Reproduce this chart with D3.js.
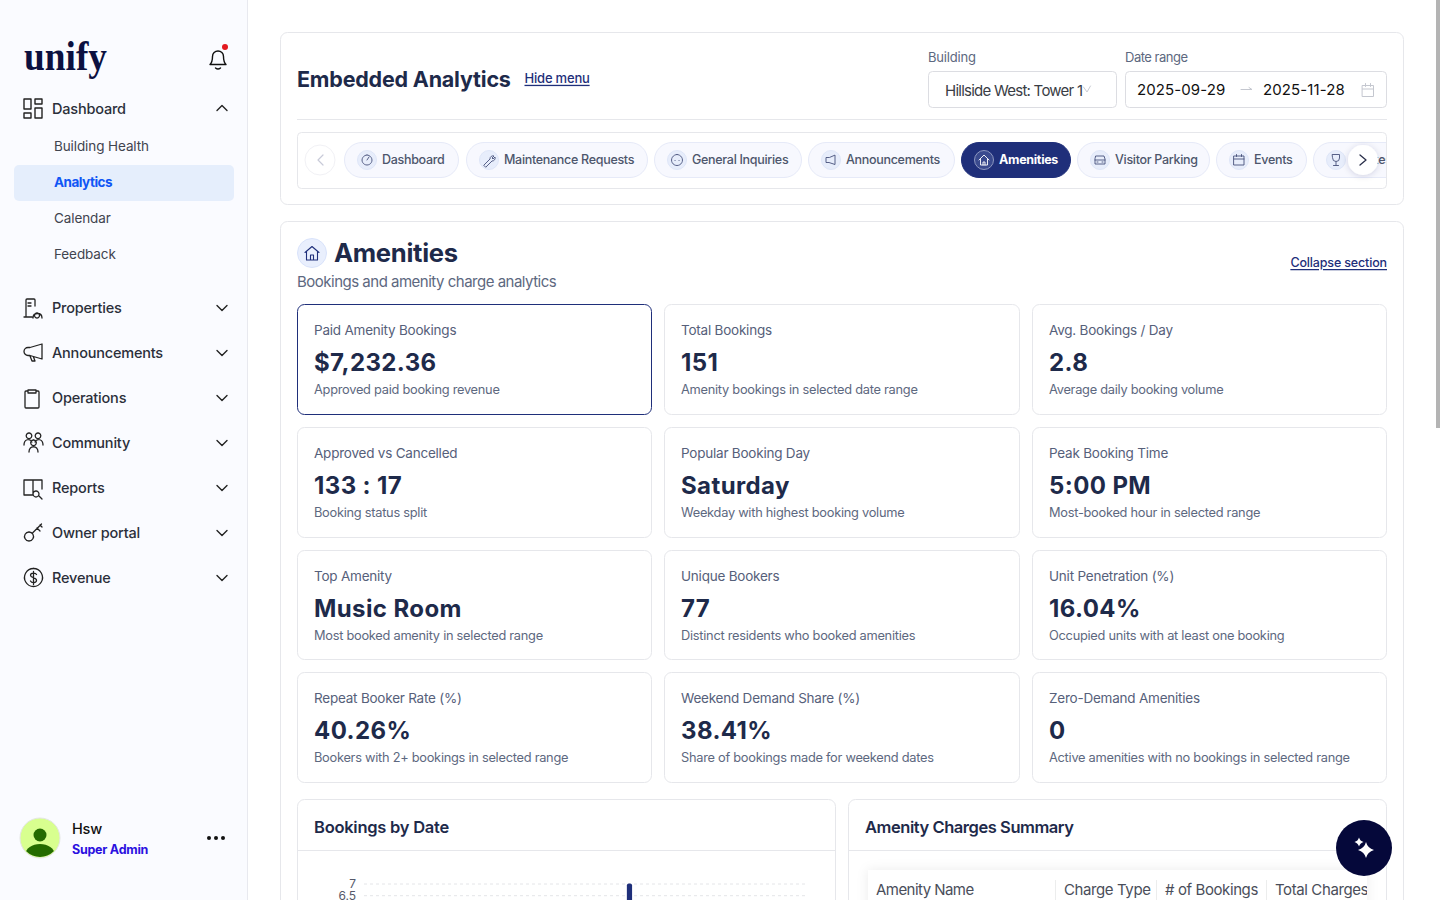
<!DOCTYPE html>
<html>
<head>
<meta charset="utf-8">
<script src="https://cdn.jsdelivr.net/npm/d3@7"></script>
<style>
html,body{margin:0;padding:0;background:#fff;overflow:hidden}
text{font-family:Inter,"Noto Sans",sans-serif}
</style>
</head>
<body>
<svg id="page" width="1440" height="900"></svg>
<script>
// text content
var subNav = ["Building Health", "Analytics", "Calendar", "Feedback"];
var mainNav = ["Properties", "Announcements", "Operations", "Community", "Reports", "Owner portal", "Revenue"];
var tabNames = ["Dashboard", "Maintenance Requests", "General Inquiries", "Announcements", "Amenities", "Visitor Parking", "Events", "Contests"];

// kpi cards, read left to right, top to bottom
var kpiLabels = ["Paid Amenity Bookings", "Total Bookings", "Avg. Bookings / Day", "Approved vs Cancelled", "Popular Booking Day", "Peak Booking Time", "Top Amenity", "Unique Bookers", "Unit Penetration (%)", "Repeat Booker Rate (%)", "Weekend Demand Share (%)", "Zero-Demand Amenities"];
var kpiValues = ["$7,232.36", "151", "2.8", "133 : 17", "Saturday", "5:00 PM", "Music Room", "77", "16.04%", "40.26%", "38.41%", "0"];
var kpiNotes = ["Approved paid booking revenue", "Amenity bookings in selected date range", "Average daily booking volume", "Booking status split", "Weekday with highest booking volume", "Most-booked hour in selected range", "Most booked amenity in selected range", "Distinct residents who booked amenities", "Occupied units with at least one booking", "Bookers with 2+ bookings in selected range", "Share of bookings made for weekend dates", "Active amenities with no bookings in selected range"];

// bookings chart, only the tallest bar is inside the window
var chartDates = ["2025-11-04"];
var chartBookings = [7];
var chartTicks = [7, 6.5];
var tableColumns = ["Amenity Name", "Charge Type", "# of Bookings", "Total Charges"];

var NAVY = "#1f2f7a", INK = "#1e2a4a", GREY = "#5d6880", LINE = "#e6e7eb";

var svg = d3.select("#page");

function label(parent, x, cy, str, size, weight, color, extra) {
	var t = parent.append("text")
		.attr("x", x).attr("y", cy - 0.7) // Inter sits a bit low on central
		.attr("dominant-baseline", "central")
		.attr("font-size", size)
		.attr("font-weight", weight)
		.attr("fill", color)
		.attr("letter-spacing", (extra && extra.ls != null) ? extra.ls : -0.2)
		.text(str);
	if (extra && extra.anchor) t.attr("text-anchor", extra.anchor);
	if (extra && extra.underline) t.attr("text-decoration", "underline");
	return t;
}

function box(parent, x0, y0, x1, y1, r, fill, stroke) {
	return parent.append("rect")
		.attr("x", x0).attr("y", y0)
		.attr("width", x1 - x0).attr("height", y1 - y0)
		.attr("rx", r)
		.attr("fill", fill).attr("stroke", stroke);
}

function icon(parent, x, y, s, d, color, width) {
	return parent.append("path")
		.attr("transform", "translate(" + x + "," + y + ") scale(" + s + ")")
		.attr("d", d)
		.attr("fill", "none")
		.attr("stroke", color)
		.attr("stroke-width", width / s)
		.attr("stroke-linecap", "round")
		.attr("stroke-linejoin", "round");
}

var defs = svg.append("defs");
var soft = defs.append("filter").attr("id", "soft").attr("x", "-50%").attr("y", "-50%").attr("width", "200%").attr("height", "200%");
soft.append("feDropShadow").attr("dx", 0).attr("dy", 1).attr("stdDeviation", 3).attr("flood-color", "#1e2a4a").attr("flood-opacity", 0.16);
var tableShadow = defs.append("filter").attr("id", "tableShadow").attr("x", "-10%").attr("y", "-20%").attr("width", "120%").attr("height", "140%");
tableShadow.append("feDropShadow").attr("dx", 0).attr("dy", 0).attr("stdDeviation", 6).attr("flood-color", "#1e2a4a").attr("flood-opacity", 0.08);
defs.append("clipPath").attr("id", "tabClip").append("rect").attr("x", 298).attr("y", 133).attr("width", 1088).attr("height", 55);
defs.append("clipPath").attr("id", "selectClip").append("rect").attr("x", 930).attr("y", 72).attr("width", 154).attr("height", 35);
defs.append("clipPath").attr("id", "avatarClip").append("circle").attr("cx", 40).attr("cy", 838).attr("r", 19);
defs.append("clipPath").attr("id", "headClip").append("rect").attr("x", 868).attr("y", 870).attr("width", 499).attr("height", 30);

// ---- sidebar ----
var side = svg.append("g");
side.append("rect").attr("width", 247).attr("height", 900).attr("fill", "#fafbff");
side.append("line").attr("x1", 247.5).attr("x2", 247.5).attr("y1", 0).attr("y2", 900).attr("stroke", "#e8e9ef");

side.append("text").attr("x", 24).attr("y", 70)
	.attr("font-size", 43).attr("font-weight", 700)
	.attr("fill", "#0b1040")
	.style("font-family", "'Liberation Serif',serif")
	.attr("textLength", 83).attr("lengthAdjust", "spacingAndGlyphs")
	.text("unify");

icon(side, 208, 47, 1, "M2 17.5c2-2 2.500-4 2.500-8a5.500 5.500 0 0 1 11 0c0 4 .5 6 2.500 8zM7.500 21c1.500 1.200 3.500 1.200 5 0", "#111", 1.4);
side.append("circle").attr("cx", 225).attr("cy", 47).attr("r", 3).attr("fill", "#e3191f");

var navIcons = {
	"Dashboard": "M0 0h7v10h-7zM11 0h7v5h-7zM11 9h7v10h-7zM0 14h7v5h-7z",
	"Properties": "M2 18V2q0-1 1-1h7q1 0 1 1v6M0 19h8M4 5h3M4 8h3M13 15a2.500 2.500 0 1 0 .01 0M9 20c0-6 9-6 9 0",
	"Announcements": "M18 1v15l-12-3.500h-2a3.500 3.500 0 0 1 0-8h2zM6 13l2 5h3l-1.500-4",
	"Operations": "M2 3h2v-1h8v1h2q1 0 1 1v15q0 1-1 1h-12q-1 0-1-1v-15q0-1 1-1zM4 2v3h8v-3",
	"Community": "M5 0a2.800 2.800 0 1 0 .01 0M14 0a2.800 2.800 0 1 0 .01 0M0 12c0-6 6-7 8-3M19 12c0-6-6-7-8-3M9.500 7a2.800 2.800 0 1 0 .01 0M5 19c0-7 9-7 9 0",
	"Reports": "M9 2h-9v15h9zM9 2h9v9M12 13a3 3 0 1 0 .01 0M15 18l3 3",
	"Owner portal": "M5 9a4.500 4.500 0 1 0 .01 0M8.500 10l9-9M13 5l3 3M16 2l2 2",
	"Revenue": "M9.500 .5a9 9 0 1 0 .01 0M12.500 6.500c-1-2-6-2-6 .8s6 2 6 5-5 2.700-6 .7M9.500 3.500v13"
};

label(side, 52, 109, "Dashboard", 14.500, 500, "#2b2f3a");
icon(side, 24, 99, 1, navIcons["Dashboard"], "#222", 1.4);
icon(side, 217, 105.5, 1, "M0 5l5-5 5 5", "#222", 1.4);

side.append("rect").attr("x", 14).attr("y", 165).attr("width", 220).attr("height", 36).attr("rx", 5).attr("fill", "#e5eefc");
subNav.forEach(function(d, i) {
	var on = d == "Analytics";
	label(side, 54, 146.5 + i * 36, d, 13.500, on ? 700 : 400, on ? "#1056f5" : "#41444f", {ls: on ? -0.5 : -0.1});
});

mainNav.forEach(function(d, i) {
	var cy = 308 + i * 45;
	label(side, 52, cy, d, 14.500, 500, "#2b2f3a");
	icon(side, 24, cy - 10, 1, navIcons[d], "#222", 1.3);
	icon(side, 217, cy - 2.5, 1, "M0 0l5 5 5-5", "#222", 1.4);
});

// user block
side.append("circle").attr("cx", 40).attr("cy", 838).attr("r", 20).attr("fill", "#d8ff8f").attr("stroke", "#e4e6e4");
side.append("circle").attr("cx", 40).attr("cy", 835).attr("r", 6.5).attr("fill", "#246b00");
side.append("ellipse").attr("cx", 40).attr("cy", 854).attr("rx", 14.5).attr("ry", 10).attr("fill", "#246b00").attr("clip-path", "url(#avatarClip)");
label(side, 72, 829, "Hsw", 14.500, 500, "#111");
label(side, 72, 849.7, "Super Admin", 12.500, 700, "#2a10e0", {ls: -0.25});
[209, 216, 223].forEach(function(x) {
	side.append("circle").attr("cx", x).attr("cy", 838).attr("r", 2).attr("fill", "#111");
});

// ---- header card ----
var head = svg.append("g");
box(head, 280.5, 32.5, 1403.5, 204.5, 7, "#fff", LINE);
label(head, 297, 79.5, "Embedded Analytics", 21.500, 700, INK, {ls: -0.2});
label(head, 524.5, 78.5, "Hide menu", 13, 500, NAVY, {underline: true, ls: -0.2});

label(head, 928, 57.7, "Building", 13, 400, GREY);
box(head, 928.5, 71.5, 1116.5, 107.5, 4, "#fff", "#dcdde2");
label(head, 945, 91.5, "Hillside West: Tower 1", 15, 400, "#3a3d45", {ls: -0.75}).attr("clip-path", "url(#selectClip)");
icon(head, 1083.5, 87, 1, "M0 0l3.500 5 3.500-6", "#c9ccd4", 1);

label(head, 1125, 57.7, "Date range", 13, 400, GREY, {ls: -0.5});
box(head, 1125.5, 71.5, 1386.5, 107.5, 4, "#fff", "#dcdde2");
label(head, 1137, 90.5, "2025-09-29", 15, 400, "#111", {ls: 0.1});
icon(head, 1241, 89.5, 1, "M0 0h11l-3-2", "#c4c7cf", 1);
label(head, 1263, 90.5, "2025-11-28", 15, 400, "#111", {ls: 0.1});
icon(head, 1362, 83.5, 1, "M.5 2h11v11h-11zM.5 5.500h11M3.500 0v3M8.500 0v3", "#c4c7cf", 1);

head.append("line").attr("x1", 297).attr("x2", 1387).attr("y1", 119.5).attr("y2", 119.5).attr("stroke", LINE);
box(head, 297.5, 132.5, 1386.5, 188.5, 4, "#fff", LINE);

// tabs, pill edges follow the labels of the reference
var tabEdges = [[344, 459], [466, 648], [654, 802], [808, 955], [961, 1071], [1077, 1210], [1216, 1307], [1313, 1430]];
var tabIcons = [
	"M6 0a5 5 0 1 0 .01 0M6 5l2-3",
	"M1 10l6-6a3 3 0 0 1 4-3l-2 2 1 1 2-2a3 3 0 0 1-3 4l-6 6z",
	"M6 -.5a5.500 5.500 0 1 0 .01 0M4 5.500h.1M8 5.500h.1",
	"M10 .5v9l-6-2h-3v-5h3z",
	"M1 5l5-5 5 5M2.500 4v6h7v-6M5 10v-3h2v3",
	"M2 1h8l1 3v5h-10v-5zM1 5h10M3 7h1M8 7h1",
	"M1 1h10v9h-10zM1 4h10M3.500 -.500v2M8.500 -.500v2",
	"M2.500 -.5h7v3.500a3.500 3.500 0 0 1-7 0zM6 7v3M3.500 10.500h5"
];
var tabsG = head.append("g").attr("clip-path", "url(#tabClip)");
tabNames.forEach(function(d, i) {
	var on = d == "Amenities";
	var e = tabEdges[i];
	box(tabsG, e[0] + 0.5, 142.5, e[1] - 0.5, 177.5, 17.5, on ? NAVY : "#f7f8fe", on ? NAVY : "#e6eaf8");
	tabsG.append("circle").attr("cx", e[0] + 23).attr("cy", 160).attr("r", 9.5)
		.attr("fill", on ? "#3a4a8e" : "#e7edfb")
		.attr("stroke", on ? "#8d97c0" : "#dfe6f8");
	icon(tabsG, e[0] + 17, 155, 1, tabIcons[i], on ? "#fff" : "#46507a", 0.9);
	label(tabsG, e[0] + 38, 160, d, 12.500, on ? 700 : 500, on ? "#fff" : "#4d566c", {ls: -0.3});
});
head.append("circle").attr("cx", 320).attr("cy", 160).attr("r", 15).attr("fill", "#fff").attr("stroke", "#f1f1f5");
icon(head, 317, 155, 1, "M6 0l-5 5 5 5", "#c8cad8", 1.2);
head.append("circle").attr("cx", 1363).attr("cy", 160).attr("r", 15).attr("fill", "#fff").attr("filter", "url(#soft)");
icon(head, 1360, 155, 1, "M0 0l6 5-6 5", "#2a2f4a", 1.3);

// ---- amenities section ----
var sec = svg.append("g");
box(sec, 280.5, 221.5, 1403.5, 960, 7, "#fff", LINE);
sec.append("circle").attr("cx", 312).attr("cy", 253).attr("r", 14.5).attr("fill", "#e9effd").attr("stroke", "#d9e3fb");
icon(sec, 305, 246, 1, "M0 6.500l7-6 7 6M1.500 5.500v8.500h11v-8.500M5.500 14v-5h3v5", NAVY, 1.1);
label(sec, 334, 253.5, "Amenities", 25.600, 700, INK, {ls: -0.3});
label(sec, 297, 282, "Bookings and amenity charge analytics", 15, 400, GREY, {ls: -0.5});
label(sec, 1387, 263.2, "Collapse section", 12.500, 500, NAVY, {anchor: "end", underline: true, ls: -0.15});

var colEdges = [[297, 652], [664, 1020], [1032, 1387]];
var rowTops = [304, 427, 550, 672];
var rowBottoms = [414.5, 537.5, 659.5, 782.5];
kpiLabels.forEach(function(d, i) {
	var c = colEdges[i % 3], row = Math.floor(i / 3), top = rowTops[row];
	box(sec, c[0] + 0.5, top + 0.5, c[1] - 0.5, rowBottoms[row], 7, "#fff", i == 0 ? NAVY : LINE);
	label(sec, c[0] + 17, top + 26.5, d, 13.500, 400, "#56607a", {ls: -0.22});
	label(sec, c[0] + 17, top + 59.2, kpiValues[i], 24, 700, INK, {ls: 0.4});
	label(sec, c[0] + 17, top + 86.5, kpiNotes[i], 12.800, 400, GREY, {ls: -0.26});
});

// ---- bookings chart ----
var chart = svg.append("g");
box(chart, 297.5, 799.5, 835.5, 1100, 7, "#fff", LINE);
label(chart, 314, 827.7, "Bookings by Date", 16.500, 600, INK, {ls: -0.25});
chart.append("line").attr("x1", 298).attr("x2", 835).attr("y1", 850.5).attr("y2", 850.5).attr("stroke", LINE);

var dayDomain = d3.timeDay.range(new Date(2025, 8, 29), new Date(2025, 10, 29)).map(d3.timeFormat("%Y-%m-%d"));
var x = d3.scaleBand().domain(dayDomain).range([364, 808]).padding(0.28);
var y = d3.scaleLinear().domain([0, 7]).range([1047.5, 883.5]);

var yAxis = chart.append("g")
	.attr("transform", "translate(364,0)")
	.call(d3.axisLeft(y).tickValues(chartTicks).tickSize(-444).tickPadding(8).tickFormat(d3.format("")));
yAxis.select(".domain").remove();
yAxis.selectAll("line").attr("stroke", "#e4e5e8").attr("stroke-dasharray", "3 3");
yAxis.selectAll("text").attr("font-size", 12).attr("fill", "#55596a").attr("font-family", "Inter");

chart.selectAll("rect.bar")
	.data(chartDates)
	.enter().append("rect")
	.attr("class", "bar")
	.attr("x", function(d) { return x(d); })
	.attr("y", function(d, i) { return y(chartBookings[i]); })
	.attr("width", x.bandwidth())
	.attr("height", function(d, i) { return y(0) - y(chartBookings[i]); })
	.attr("rx", 2)
	.attr("fill", NAVY);

// ---- charges table ----
var tbl = svg.append("g");
box(tbl, 848.5, 799.5, 1386.5, 1100, 7, "#fff", LINE);
label(tbl, 865, 827.7, "Amenity Charges Summary", 16.500, 600, INK, {ls: -0.45});
tbl.append("line").attr("x1", 849).attr("x2", 1386).attr("y1", 850.5).attr("y2", 850.5).attr("stroke", LINE);
tbl.append("rect").attr("x", 868).attr("y", 870).attr("width", 499).attr("height", 60).attr("fill", "#fff").attr("filter", "url(#tableShadow)");

var colX = [876, 1064, 1165, 1275];
var headG = tbl.append("g").attr("clip-path", "url(#headClip)");
tableColumns.forEach(function(d, i) {
	label(headG, colX[i], 890.5, d, 15, 400, "#4a4e5a", {ls: i == 0 ? -0.55 : -0.4});
	if (i > 0) headG.append("line").attr("x1", colX[i] - 8.5).attr("x2", colX[i] - 8.5).attr("y1", 880).attr("y2", 900).attr("stroke", "#eceded");
});

// ---- floating button and scrollbar ----
svg.append("circle").attr("cx", 1364).attr("cy", 848).attr("r", 28).attr("fill", "#05083a");
svg.append("path").attr("d", "M1359 837.500q1 3.500 4.500 4.500q-3.500 1-4.500 4.500q-1-3.500-4.500-4.500q3.500-1 4.500-4.500zM1366 842q1.500 6 8 8q-6.500 2-8 8q-1.500-6-8-8q6.500-2 8-8z").attr("fill", "#fff");
svg.append("rect").attr("x", 1436).attr("y", 0).attr("width", 4).attr("height", 428).attr("fill", "#b4b4b4");
</script>
</body>
</html>
